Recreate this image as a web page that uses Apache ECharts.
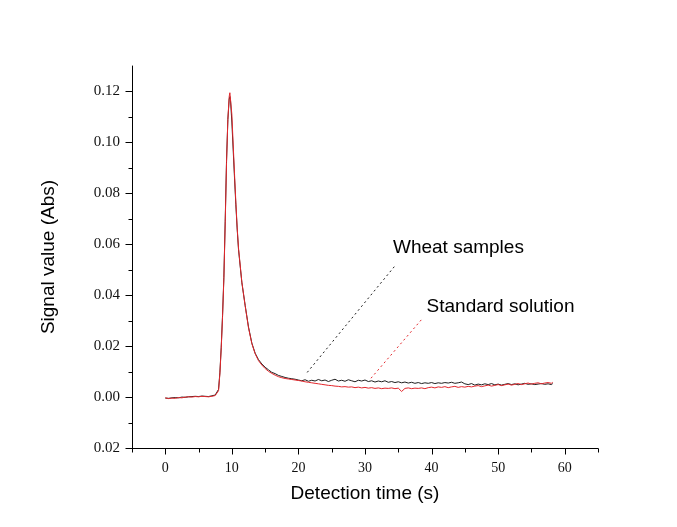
<!DOCTYPE html>
<html>
<head>
<meta charset="utf-8">
<title>Signal value vs detection time</title>
<script src="https://cdn.jsdelivr.net/npm/echarts@6/dist/echarts.min.js"></script>
<style>
  html, body { margin: 0; padding: 0; background: #ffffff; }
  #chart { width: 677px; height: 527px; }
</style>
</head>
<body>
<div id="chart"></div>
<script>
// Detection time (s)
var timeS = [
  0, 0.5, 1, 1.5, 2, 2.5, 3, 3.5, 4, 4.5, 5, 5.5, 6, 6.5, 7, 7.5,
  8, 8.2, 8.4, 8.6, 8.8, 9, 9.2, 9.4, 9.6, 9.7, 9.8, 10, 10.2, 10.4, 10.6, 10.8, 11,
  11.5, 12, 12.5, 13, 13.5, 14, 14.5, 15, 15.5, 16, 16.5, 17, 17.5, 18, 18.5, 19, 19.5,
  20, 20.5, 21, 21.5, 22, 22.5, 23, 23.5, 24, 24.5, 25, 25.5, 26, 26.5, 27, 27.5,
  28, 28.5, 29, 29.5, 30, 30.5, 31, 31.5, 32, 32.5, 33, 33.5, 34, 34.5, 35, 35.5,
  36, 36.5, 37, 37.5, 38, 38.5, 39, 39.5, 40, 40.5, 41, 41.5, 42, 42.5, 43, 43.5,
  44, 44.5, 45, 45.5, 46, 46.5, 47, 47.5, 48, 48.5, 49, 49.5, 50, 50.5, 51, 51.5,
  52, 52.5, 53, 53.5, 54, 54.5, 55, 55.5, 56, 56.5, 57, 57.5, 58, 58.2
];

// Wheat samples signal (Abs)
var wheatSignal = [
  -0.0004, -0.0005, -0.0003, -0.0002, -0.0003, 0.0000, -0.0001, 0.0001, 0.0002, 0.0003, 0.0002, 0.0004, 0.0003, 0.0002, 0.0005, 0.0008,
  0.0030, 0.0095, 0.0195, 0.0320, 0.0470, 0.0690, 0.0930, 0.1090, 0.1170, 0.1180, 0.1165, 0.1080, 0.0970, 0.0860, 0.0755, 0.0660, 0.0580,
  0.0450, 0.0360, 0.0275, 0.0212, 0.0172, 0.0147, 0.0130, 0.0117, 0.0107, 0.0097, 0.0092, 0.0085, 0.0081, 0.0077, 0.0074, 0.0072, 0.0070,
  0.0067, 0.0064, 0.0068, 0.0062, 0.0066, 0.0063, 0.0069, 0.0064, 0.0067, 0.0061, 0.0066, 0.0070, 0.0063, 0.0066, 0.0062, 0.0068,
  0.0064, 0.0060, 0.0066, 0.0063, 0.0067, 0.0061, 0.0064, 0.0059, 0.0063, 0.0060, 0.0064, 0.0058, 0.0061, 0.0057, 0.0060, 0.0056,
  0.0059, 0.0055, 0.0058, 0.0054, 0.0057, 0.0053, 0.0056, 0.0054, 0.0057, 0.0053, 0.0056, 0.0054, 0.0057, 0.0055, 0.0058, 0.0054,
  0.0056, 0.0059, 0.0052, 0.0049, 0.0053, 0.0047, 0.0051, 0.0048, 0.0052, 0.0049, 0.0053, 0.0048, 0.0051, 0.0047, 0.0050, 0.0053,
  0.0049, 0.0052, 0.0048, 0.0051, 0.0054, 0.0050, 0.0052, 0.0049, 0.0051, 0.0053, 0.0050, 0.0052, 0.0049, 0.0053
];

// Standard solution signal (Abs)
var standardSignal = [
  -0.0003, -0.0006, -0.0004, -0.0005, -0.0002, -0.0003, 0.0000, 0.0001, 0.0000, 0.0002, 0.0001, 0.0003, 0.0002, 0.0001, 0.0003, 0.0006,
  0.0025, 0.0090, 0.0190, 0.0315, 0.0465, 0.0680, 0.0920, 0.1090, 0.1180, 0.1195, 0.1200, 0.1110, 0.0990, 0.0875, 0.0765, 0.0665, 0.0585,
  0.0452, 0.0358, 0.0272, 0.0210, 0.0170, 0.0143, 0.0126, 0.0112, 0.0101, 0.0093, 0.0086, 0.0080, 0.0076, 0.0073, 0.0071, 0.0069, 0.0067,
  0.0065, 0.0063, 0.0060, 0.0058, 0.0056, 0.0054, 0.0052, 0.0050, 0.0048, 0.0046, 0.0045, 0.0043, 0.0042, 0.0040, 0.0041, 0.0039,
  0.0040, 0.0037, 0.0039, 0.0036, 0.0038, 0.0035, 0.0037, 0.0034, 0.0036, 0.0033, 0.0035, 0.0034, 0.0036, 0.0033, 0.0035, 0.0022,
  0.0034, 0.0036, 0.0033, 0.0035, 0.0034, 0.0036, 0.0033, 0.0037, 0.0039, 0.0036, 0.0040, 0.0038, 0.0041, 0.0037, 0.0040, 0.0042,
  0.0038, 0.0041, 0.0039, 0.0042, 0.0040, 0.0043, 0.0045, 0.0041, 0.0044, 0.0047, 0.0043, 0.0046, 0.0049, 0.0045, 0.0048, 0.0051,
  0.0047, 0.0050, 0.0053, 0.0049, 0.0052, 0.0055, 0.0051, 0.0054, 0.0056, 0.0052, 0.0055, 0.0057, 0.0054, 0.0058
];

// Axis ranges, ticks and their labels
var xRange = [-5, 65];
var yRange = [-0.02, 0.13];
var xTickValues = [0, 10, 20, 30, 40, 50, 60];
var xTickLabels = ['0', '10', '20', '30', '40', '50', '60'];
var xMinorTicks = [-5, 5, 15, 25, 35, 45, 55, 65];
var yTickValues = [-0.02, 0, 0.02, 0.04, 0.06, 0.08, 0.10, 0.12];
var yTickLabels = ['0.02', '0.00', '0.02', '0.04', '0.06', '0.08', '0.10', '0.12'];
var yMinorTicks = [-0.01, 0.01, 0.03, 0.05, 0.07, 0.09, 0.11];

// Callout texts with their leader lines (data coordinates)
var seriesNames = ['Wheat samples', 'Standard solution'];
var calloutText = [[34.2, 0.0585], [39.25, 0.0354]];
var leaderFrom = [[34.4, 0.0512], [38.45, 0.0303]];
var leaderTo = [[21.2, 0.0093], [30.9, 0.0074]];

function pairs(xs, ys) {
  return xs.map(function (x, i) { return [x, ys[i]]; });
}

function labelFor(values, labels) {
  return function (v) {
    for (var i = 0; i < values.length; i++) {
      if (Math.abs(values[i] - v) < 1e-9) return labels[i];
    }
    return '';
  };
}

var lineColors = ['#1f1f1f', '#e3262b'];
var dataSets = [wheatSignal, standardSignal];

var tickFont = 'Liberation Serif';
var textFont = 'Liberation Sans';
var axisLineStyle = { color: '#000', width: 1 };

var series = dataSets.map(function (ys, k) {
  return {
    name: seriesNames[k],
    type: 'line',
    data: pairs(timeS, ys),
    showSymbol: false,
    symbol: 'none',
    smooth: false,
    lineStyle: { color: lineColors[k], width: 1 },
    itemStyle: { color: lineColors[k] },
    z: 2 + k,
    silent: true,
    markLine: {
      silent: true,
      symbol: ['none', 'none'],
      label: { show: false },
      lineStyle: { color: lineColors[k], width: 1, type: [2, 3] },
      data: [[{ coord: leaderFrom[k] }, { coord: leaderTo[k] }]]
    },
    markPoint: {
      silent: true,
      symbol: 'circle',
      symbolSize: 0,
      label: {
        show: true,
        position: 'right',
        distance: 0,
        formatter: seriesNames[k],
        color: '#000',
        fontFamily: textFont,
        fontSize: 19
      },
      data: [{ coord: calloutText[k] }]
    }
  };
});

// Outward tick marks, placed through the cartesian scales
function tickSeries(values, dir, len) {
  return {
    type: 'custom',
    silent: true,
    clip: false,
    z: 6,
    data: values.map(function (v) { return dir === 'x' ? [v, yRange[0]] : [xRange[0], v]; }),
    renderItem: function (params, api) {
      var p = api.coord([api.value(0), api.value(1)]);
      var x = Math.round(p[0]) + 0.5;
      var y = Math.round(p[1]) + 0.5;
      var shape = dir === 'x'
        ? { x1: x, y1: y, x2: x, y2: y + len }
        : { x1: x - len, y1: y, x2: x, y2: y };
      return { type: 'line', shape: shape, style: { stroke: '#000', lineWidth: 1 } };
    }
  };
}

series.push(tickSeries(xTickValues, 'x', 6));
series.push(tickSeries(xMinorTicks, 'x', 4));
series.push(tickSeries(yTickValues, 'y', 7));
series.push(tickSeries(yMinorTicks, 'y', 4));

var chart = echarts.init(document.getElementById('chart'), null, { renderer: 'canvas' });

chart.setOption({
  animation: false,
  backgroundColor: '#ffffff',
  grid: { left: 132, right: 79, top: 66, bottom: 79, containLabel: false },
  xAxis: {
    type: 'value',
    position: 'bottom',
    min: xRange[0],
    max: xRange[1],
    name: 'Detection time (s)',
    nameLocation: 'middle',
    nameGap: 36,
    nameTextStyle: { fontFamily: textFont, fontSize: 19, color: '#000' },
    axisLine: { show: true, onZero: false, lineStyle: axisLineStyle },
    axisTick: { show: false },
    axisLabel: {
      show: true,
      customValues: xTickValues,
      formatter: labelFor(xTickValues, xTickLabels),
      margin: 13,
      fontFamily: tickFont,
      fontSize: 14,
      color: '#111'
    },
    splitLine: { show: false }
  },
  yAxis: {
    type: 'value',
    position: 'left',
    min: yRange[0],
    max: yRange[1],
    name: 'Signal value (Abs)',
    nameLocation: 'middle',
    nameGap: 74,
    nameRotate: 90,
    nameTextStyle: { fontFamily: textFont, fontSize: 19, color: '#000' },
    axisLine: { show: true, onZero: false, lineStyle: axisLineStyle },
    axisTick: { show: false },
    axisLabel: {
      show: true,
      customValues: yTickValues,
      formatter: labelFor(yTickValues, yTickLabels),
      margin: 12,
      fontFamily: tickFont,
      fontSize: 15,
      color: '#111'
    },
    splitLine: { show: false }
  },
  series: series
});
</script>
</body>
</html>
